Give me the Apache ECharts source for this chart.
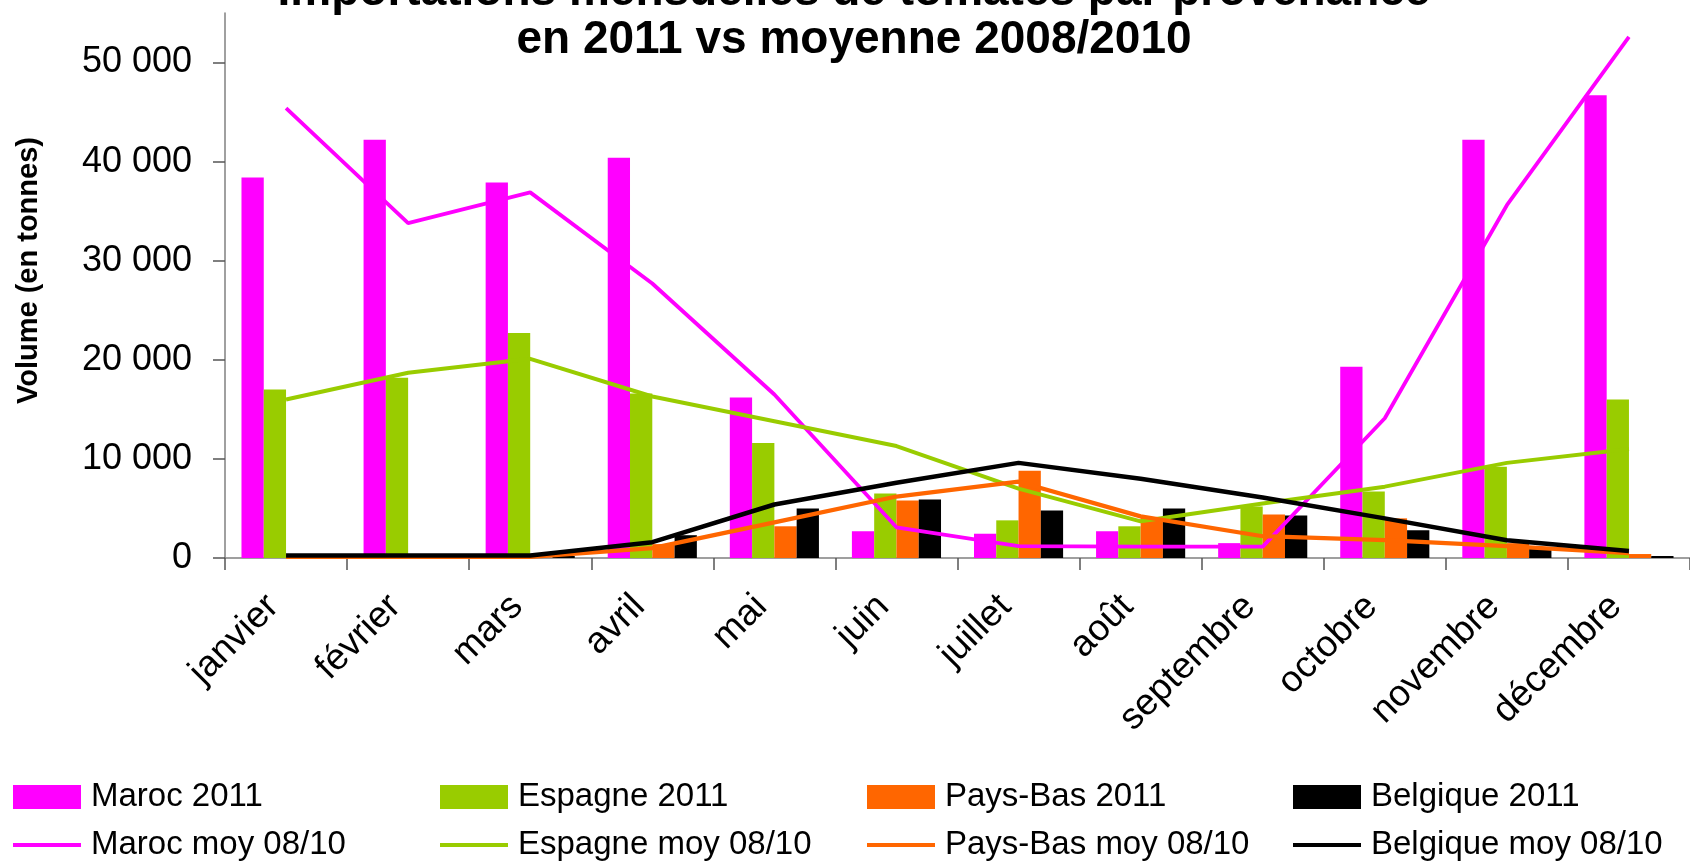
<!DOCTYPE html>
<html>
<head>
<meta charset="utf-8">
<script src="https://cdn.jsdelivr.net/npm/echarts@6/dist/echarts.min.js"></script>
<style>
html,body{margin:0;padding:0;background:#fff;}
#chart{width:1690px;height:861px;}
</style>
</head>
<body>
<div id="chart"></div>
<script>
const months = ['janvier','février','mars','avril','mai','juin','juillet','août','septembre','octobre','novembre','décembre'];
const yTicks = [0, 10000, 20000, 30000, 40000, 50000];

const maroc2011    = [38400, 42200, 37900, 40400, 16200, 2700, 2450, 2700, 1500, 19300, 42200, 46700];
const espagne2011  = [17000, 18200, 22700, 16600, 11600, 6500, 3800, 3200, 5200, 6700, 9200, 16000];
const paysbas2011  = [0, 0, 0, 1400, 3200, 5800, 8800, 4100, 4400, 4000, 1500, 400];
const belgique2011 = [0, 0, 200, 2300, 5000, 5900, 4800, 5000, 4300, 2800, 1100, 200];

const marocMoy    = [45400, 33800, 36900, 27700, 16500, 3100, 1200, 1150, 1150, 14100, 35600, 52600];
const espagneMoy  = [16000, 18700, 20100, 16300, 13800, 11300, 7000, 3700, 5500, 7200, 9600, 11000];
const paysbasMoy  = [100, 100, 100, 1000, 3600, 6200, 7700, 4200, 2200, 1800, 1200, 500];
const belgiqueMoy = [250, 250, 250, 1600, 5400, 7600, 9600, 8000, 6100, 4000, 1800, 700];

const barNames  = ['Maroc 2011', 'Espagne 2011', 'Pays-Bas 2011', 'Belgique 2011'];
const lineNames = ['Maroc moy 08/10', 'Espagne moy 08/10', 'Pays-Bas moy 08/10', 'Belgique moy 08/10'];
const colors = ['#FF00FF', '#99CC00', '#FF6600', '#000000'];
const barData = [maroc2011, espagne2011, paysbas2011, belgique2011];
const lineData = [marocMoy, espagneMoy, paysbasMoy, belgiqueMoy];
const lineWidths = [3.8, 4, 4.2, 4.5];

const FONT = '"Liberation Sans", Arial, sans-serif';
const fmt = v => String(v).replace(/\B(?=(\d{3})+(?!\d))/g, ' ');

const series = [];
barNames.forEach((n, i) => series.push({
  name: n, type: 'bar', data: barData[i], barGap: '0%', barCategoryGap: '27%',
  itemStyle: { color: colors[i] }
}));
lineNames.forEach((n, i) => series.push({
  name: n, type: 'line', data: lineData[i], symbol: 'none',
  lineStyle: { color: colors[i], width: lineWidths[i] }, itemStyle: { color: colors[i] }
}));

const colX = [13, 440, 867, 1293];
const legends = [];
barNames.forEach((n, i) => legends.push({
  data: [n], left: colX[i], top: 779, icon: 'rect', itemWidth: 68, itemHeight: 24,
  padding: 0, selectedMode: false,
  textStyle: { fontSize: 33, fontFamily: FONT, color: '#000', lineHeight: 36, padding: [0,0,0,5] }
}));
lineNames.forEach((n, i) => legends.push({
  data: [n], left: colX[i], top: 827, icon: 'rect', itemWidth: 68, itemHeight: 4,
  padding: 0, selectedMode: false,
  textStyle: { fontSize: 33, fontFamily: FONT, color: '#000', lineHeight: 36, padding: [0,0,0,5] }
}));

const chart = echarts.init(document.getElementById('chart'), null, { renderer: 'canvas' });
chart.setOption({
  animation: false,
  backgroundColor: '#fff',
  title: {
    text: 'Importations mensuelles de tomates par provenance\nen 2011 vs moyenne 2008/2010',
    left: 854, top: -32, textAlign: 'center', padding: 0,
    textStyle: { fontFamily: FONT, fontSize: 46, fontWeight: 'bold', color: '#000', lineHeight: 48 }
  },
  legend: legends,
  grid: { left: 225, right: -11, top: 13, bottom: 303, containLabel: false },
  xAxis: {
    type: 'category', data: months, boundaryGap: true,
    axisLine: { lineStyle: { color: '#808080', width: 1.5 } },
    axisTick: { show: true, length: 12, lineStyle: { color: '#555', width: 1.5 } },
    axisLabel: { rotate: 45, fontSize: 37, fontFamily: FONT, color: '#000', margin: 56, interval: 0, verticalAlign: 'bottom' }
  },
  yAxis: {
    type: 'value', min: 0, max: 55000, interval: 5000,
    name: 'Volume (en tonnes)', nameLocation: 'middle', nameRotate: 90, nameGap: 182,
    nameTextStyle: { fontFamily: FONT, fontSize: 29, fontWeight: 'bold', color: '#000', padding: [0,0,0,30] },
    axisLine: { show: true, lineStyle: { color: '#808080', width: 1.5 } },
    axisTick: { show: true, length: 12, customValues: yTicks, lineStyle: { color: '#555', width: 1.5 } },
    axisLabel: { customValues: yTicks, fontSize: 36, fontFamily: FONT, color: '#000', margin: 33, formatter: fmt },
    splitLine: { show: false }
  },
  series: series
});
</script>
</body>
</html>
